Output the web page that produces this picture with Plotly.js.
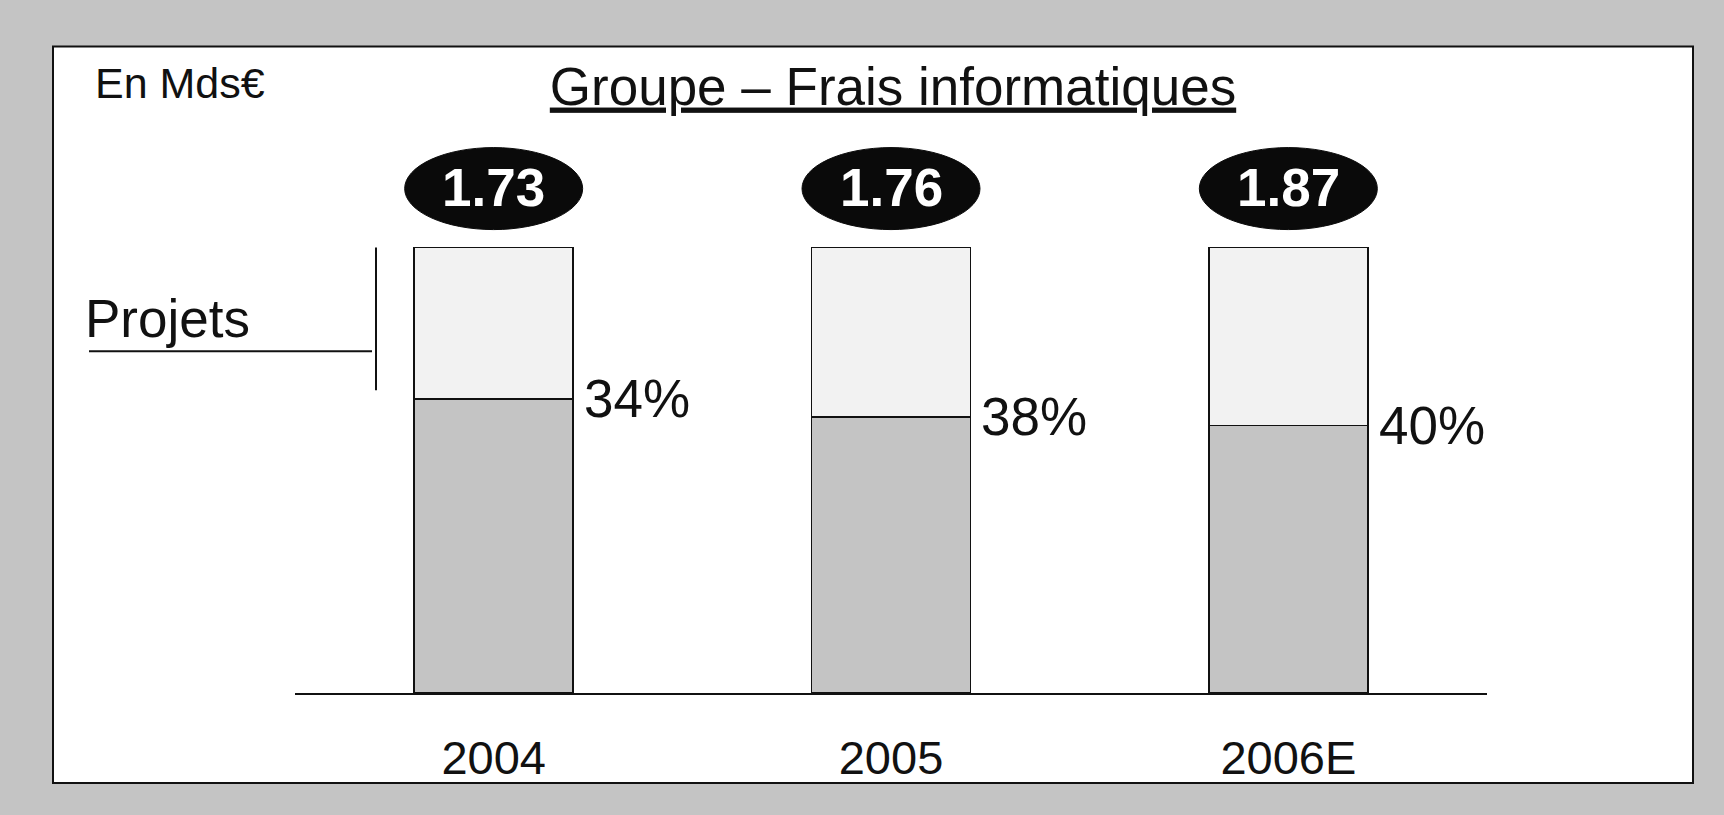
<!DOCTYPE html>
<html>
<head>
<meta charset="utf-8">
<script src="https://cdn.plot.ly/plotly-3.0.1.min.js"></script>
<style>
  html, body { margin: 0; padding: 0; background: #c4c4c4; }
  #chart { width: 1724px; height: 815px; }
</style>
</head>
<body>
<div id="chart"></div>
<script>
// chart values
const years = ['2004', '2005', '2006E'];
const totals = [1.73, 1.76, 1.87];        // Mds€
const projetsPct = [34, 38, 40];          // share of projets (top part)
const autresPct = [66, 62, 60];           // rest of the costs (bottom part)

const FONT = '"Liberation Sans", Arial, Helvetica, sans-serif';

// plot area in pixels, used to place the frame and the side notes
const W = 1724, H = 815;
const plotL = 295, plotR = 1487, plotT = 135.5, plotB = 693;
const px = (x) => (x - plotL) / (plotR - plotL);
const py = (y) => (plotB - y) / (plotB - plotT);

const barWidth = 0.4;

const autresTrace = {
  x: years,
  y: autresPct,
  type: 'bar',
  width: barWidth,
  name: 'Autres',
  marker: { color: '#c4c4c4', line: { color: '#111111', width: 1.6 } },
  hoverinfo: 'skip'
};

const projetsTrace = {
  x: years,
  y: projetsPct,
  type: 'bar',
  width: barWidth,
  name: 'Projets',
  marker: { color: '#f2f2f2', line: { color: '#111111', width: 1.6 } },
  hoverinfo: 'skip'
};

// black ovals with the totals above each bar
const ovalY = 113.2, ovalHalfH = 9.2, ovalHalfW = 0.224;
const shapes = [];
const annotations = [];

// white frame
shapes.push({
  type: 'rect', xref: 'paper', yref: 'paper', layer: 'below',
  x0: px(53), x1: px(1693), y0: py(783), y1: py(46),
  fillcolor: 'white', line: { color: '#111111', width: 2 }
});

years.forEach((yr, i) => {
  shapes.push({
    type: 'circle', xref: 'x', yref: 'y',
    x0: i - ovalHalfW, x1: i + ovalHalfW,
    y0: ovalY - ovalHalfH, y1: ovalY + ovalHalfH,
    fillcolor: '#0a0a0a', line: { color: '#0a0a0a', width: 1 }
  });
  annotations.push({
    x: i, y: ovalY, xref: 'x', yref: 'y',
    text: '<b>' + totals[i].toFixed(2) + '</b>',
    showarrow: false, yanchor: 'middle', yshift: 1,
    font: { family: FONT, size: 53, color: 'white' }
  });
  annotations.push({
    x: i + barWidth / 2, y: autresPct[i], xref: 'x', yref: 'y',
    text: projetsPct[i] + '%',
    showarrow: false, xanchor: 'left', yanchor: 'middle', xshift: 9,
    font: { family: FONT, size: 53, color: '#111111' }
  });
});

// "Projets" bracket on the left
shapes.push({
  type: 'line', xref: 'paper', yref: 'paper',
  x0: px(89), x1: px(372), y0: py(351), y1: py(351),
  line: { color: '#111111', width: 2 }
});
shapes.push({
  type: 'line', xref: 'paper', yref: 'paper',
  x0: px(376), x1: px(376), y0: py(247), y1: py(390),
  line: { color: '#111111', width: 2 }
});
annotations.push({
  x: px(83), y: py(318), xref: 'paper', yref: 'paper',
  text: 'Projets', showarrow: false, xanchor: 'left', yanchor: 'middle',
  font: { family: FONT, size: 53, color: '#111111' }
});
annotations.push({
  x: px(93), y: py(82), xref: 'paper', yref: 'paper',
  text: 'En Mds€', showarrow: false, xanchor: 'left', yanchor: 'middle',
  font: { family: FONT, size: 43, color: '#111111' }
});

const layout = {
  width: W,
  height: H,
  margin: { l: plotL, r: W - plotR, t: plotT, b: H - plotB, pad: 0 },
  paper_bgcolor: '#c4c4c4',
  plot_bgcolor: 'rgba(0,0,0,0)',
  barmode: 'stack',
  showlegend: false,
  title: {
    text: '<u>Groupe – Frais informatiques</u>',
    xref: 'container', yref: 'container',
    x: 893 / W, y: 1 - 86 / H, xanchor: 'center', yanchor: 'middle',
    font: { family: FONT, size: 53, color: '#111111' }
  },
  xaxis: {
    type: 'category',
    range: [-0.5, 2.5],
    showline: true, linecolor: '#111111', linewidth: 1.5,
    showgrid: false, zeroline: false,
    ticks: '', ticklabelstandoff: 23,
    tickfont: { family: FONT, size: 47, color: '#111111' },
    fixedrange: true
  },
  yaxis: {
    range: [0, 125],
    visible: false,
    fixedrange: true
  },
  shapes: shapes,
  annotations: annotations
};

Plotly.newPlot('chart', [autresTrace, projetsTrace], layout, { displayModeBar: false, staticPlot: true });
</script>
</body>
</html>
